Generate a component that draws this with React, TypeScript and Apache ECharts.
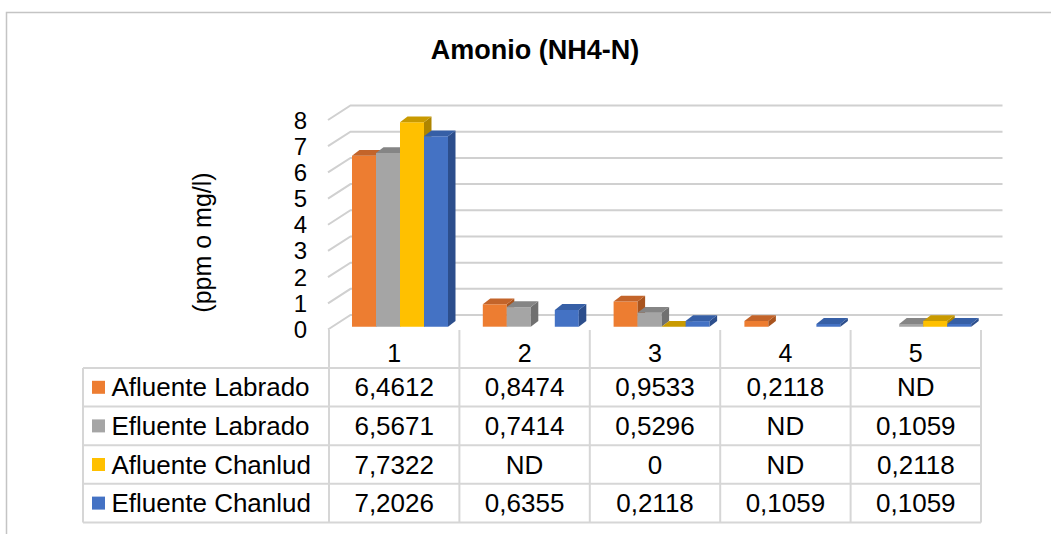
import React, { useEffect, useRef } from "react";
import * as echarts from "echarts";

// ---- data ----
const categories = ["1", "2", "3", "4", "5"];
const seriesNames = ["Afluente Labrado", "Efluente Labrado", "Afluente Chanlud", "Efluente Chanlud"];
const afluenteLabrado: (number | null)[] = [6.4612, 0.8474, 0.9533, 0.2118, null];
const efluenteLabrado: (number | null)[] = [6.5671, 0.7414, 0.5296, null, 0.1059];
const afluenteChanlud: (number | null)[] = [7.7322, null, 0, null, 0.2118];
const efluenteChanlud: (number | null)[] = [7.2026, 0.6355, 0.2118, 0.1059, 0.1059];
const yTicks = [0, 1, 2, 3, 4, 5, 6, 7, 8];
const titleText = "Amonio (NH4-N)";
const yAxisName = "(ppm o mg/l)";

const seriesValues = [afluenteLabrado, efluenteLabrado, afluenteChanlud, efluenteChanlud];
const colors = ["#ED7D31", "#A5A5A5", "#FFC000", "#4472C4"];
const topColors = ["#C3642A", "#858585", "#C99A00", "#365FA6"];
const sideColors = ["#A9541E", "#707070", "#AE8500", "#2C4E8C"];

const FONT = "Liberation Sans, Arial, sans-serif";
const W = 1051;
const H = 534;

// front floor plane (axis labels, table)
const FL = 329, FR = 981, FY0 = 329.5, FY8 = 120;
// bars front plane
const BL = 334.6, BR = 988.6, BY0 = 326.7, BY8 = 115.1;
// oblique depth
const WALL_DX = 21.5, WALL_DY = 14.5;
const BAR_DX = 7.5, BAR_DY = 5.8;

// table layout
const HEAD_TOP = 330, HEAD_BOT = 368, ROW_H = 38.6, TABLE_LEFT = 83;

function fmt(v: number | null) {
  if (v === null) return "ND";
  return String(v).replace(".", ",");
}

export default function App() {
  const ref = useRef<HTMLDivElement>(null);
  useEffect(() => {
    if (!ref.current) return;
    const chart = echarts.init(ref.current, undefined, { renderer: "svg" });

    const colW = (FR - FL) / categories.length;
    const graphic: any[] = [];
    // chart border
    graphic.push({
      type: "rect",
      shape: { x: 6.5, y: 12.5, width: 1200, height: 700 },
      style: { fill: "none", stroke: "#c4c4c4", lineWidth: 1.5 },
      silent: true,
    });
    // title
    graphic.push({
      type: "text",
      x: 535,
      y: 50,
      style: { text: titleText, fontFamily: FONT, fontSize: 27, fontWeight: "bold", fill: "#000", align: "center", verticalAlign: "middle" },
    });
    // y axis name
    graphic.push({
      type: "text",
      x: 202,
      y: 242.5,
      rotation: Math.PI / 2,
      style: { text: yAxisName, fontFamily: FONT, fontSize: 25, fill: "#000", align: "center", verticalAlign: "middle" },
    });
    // table lines
    const lineStyle = { stroke: "#d6d6d6", lineWidth: 2 };
    const tableBottom = HEAD_BOT + ROW_H * seriesNames.length;
    for (let i = 0; i <= categories.length; i++) {
      const x = FL + colW * i;
      graphic.push({ type: "line", shape: { x1: x, y1: HEAD_TOP, x2: x, y2: tableBottom }, style: lineStyle, silent: true });
    }
    graphic.push({ type: "line", shape: { x1: TABLE_LEFT, y1: HEAD_BOT, x2: TABLE_LEFT, y2: tableBottom }, style: lineStyle, silent: true });
    for (let r = 0; r <= seriesNames.length; r++) {
      const y = HEAD_BOT + ROW_H * r;
      graphic.push({ type: "line", shape: { x1: TABLE_LEFT, y1: y, x2: FR, y2: y }, style: lineStyle, silent: true });
    }
    // header labels
    categories.forEach((c, i) => {
      graphic.push({
        type: "text",
        x: FL + colW * (i + 0.5),
        y: 353,
        style: { text: c, fontFamily: FONT, fontSize: 25, fill: "#000", align: "center", verticalAlign: "middle" },
      });
    });
    // rows
    seriesNames.forEach((name, r) => {
      const cy = HEAD_BOT + ROW_H * (r + 0.5);
      graphic.push({ type: "rect", shape: { x: 92, y: cy - 6.5, width: 13, height: 13 }, style: { fill: colors[r] } });
      graphic.push({
        type: "text",
        x: 111.5,
        y: cy,
        style: { text: name, fontFamily: FONT, fontSize: 26, fill: "#000", align: "left", verticalAlign: "middle" },
      });
      seriesValues[r].forEach((v, i) => {
        graphic.push({
          type: "text",
          x: FL + colW * (i + 0.5),
          y: cy,
          style: { text: fmt(v), fontFamily: FONT, fontSize: 26, fill: "#000", align: "center", verticalAlign: "middle" },
        });
      });
    });

    const barSeries = seriesValues.map((vals, si) => ({
      type: "custom",
      name: seriesNames[si],
      xAxisIndex: 1,
      yAxisIndex: 1,
      z: 5 + si,
      data: vals
        .map((v, i) => (v === null ? null : [i, v]))
        .filter((d) => d !== null),
      renderItem: (params: any, api: any) => {
        const cat = api.value(0);
        const v = api.value(1);
        const top = api.coord([cat, v]);
        const base = api.coord([cat, 0]);
        const band = api.size([1, 0])[0];
        const w = band * 0.1835;
        const x0 = top[0] - 2 * w + si * w;
        const children: any[] = [];
        if (base[1] - top[1] > 0.01) {
          children.push({ type: "rect", shape: { x: x0, y: top[1], width: w, height: base[1] - top[1] }, style: { fill: colors[si] } });
          children.push({
            type: "polygon",
            shape: { points: [[x0 + w, top[1]], [x0 + w + BAR_DX, top[1] - BAR_DY], [x0 + w + BAR_DX, base[1] - BAR_DY], [x0 + w, base[1]]] },
            style: { fill: sideColors[si] },
          });
        }
        children.push({
          type: "polygon",
          shape: { points: [[x0, top[1]], [x0 + w, top[1]], [x0 + w + BAR_DX, top[1] - BAR_DY], [x0 + BAR_DX, top[1] - BAR_DY]] },
          style: { fill: topColors[si] },
        });
        return { type: "group", children };
      },
    }));

    const gridSeries = {
      type: "custom",
      xAxisIndex: 0,
      yAxisIndex: 0,
      z: 1,
      silent: true,
      data: yTicks.map((t) => [0, t]),
      renderItem: (params: any, api: any) => {
        const cs = params.coordSys;
        const p = api.coord([0, api.value(1)]);
        return {
          type: "polyline",
          shape: {
            points: [
              [cs.x - 1, p[1]],
              [cs.x + WALL_DX, p[1] - WALL_DY],
              [cs.x + cs.width + WALL_DX, p[1] - WALL_DY],
            ],
          },
          style: { stroke: "#d0d0d0", lineWidth: 2, fill: "none" },
        };
      },
    };

    chart.setOption({
      animation: false,
      backgroundColor: "#ffffff",
      grid: [
        { left: FL, right: W - FR, top: FY8, bottom: H - FY0 },
        { left: BL, right: W - BR, top: BY8, bottom: H - BY0 },
      ],
      xAxis: [
        { type: "category", data: categories, gridIndex: 0, show: false },
        { type: "category", data: categories, gridIndex: 1, show: false },
      ],
      yAxis: [
        {
          type: "value",
          gridIndex: 0,
          min: 0,
          max: 8,
          interval: 1,
          axisLine: { show: false },
          axisTick: { show: false },
          splitLine: { show: false },
          axisLabel: { fontFamily: FONT, fontSize: 24, color: "#000", margin: 22, padding: [3, 0, 0, 0] },
        },
        { type: "value", gridIndex: 1, min: 0, max: 8, interval: 1, show: false, splitLine: { show: false } },
      ],
      series: [gridSeries, ...barSeries],
      graphic,
    });
    return () => chart.dispose();
  }, []);
  return <div ref={ref} style={{ position: "absolute", left: 0, top: 0, width: W, height: H, background: "#fff" }} />;
}
